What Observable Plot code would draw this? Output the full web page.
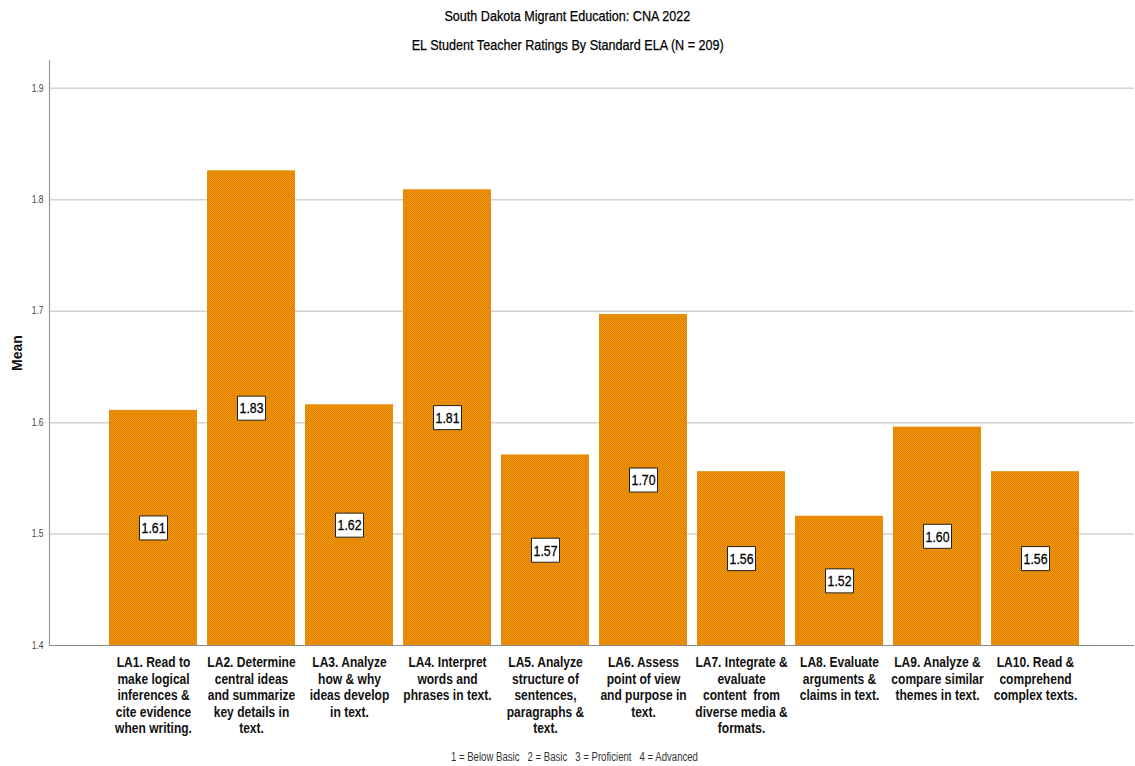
<!DOCTYPE html>
<html>
<head>
<meta charset="utf-8">
<script src="https://cdn.jsdelivr.net/npm/d3@7"></script>
<script src="https://cdn.jsdelivr.net/npm/@observablehq/plot@0.6"></script>
<style>
  html, body { margin: 0; padding: 0; background: #fff; overflow: hidden; }
  body { width: 1135px; height: 766px; font-family: "Liberation Sans", Arial, sans-serif; }
  .t1 { height: 32px; line-height: 32px; text-align: center; font-size: 15px; color: #000; }
  .t2 { height: 24px; line-height: 26px; text-align: center; font-size: 15px; color: #000; }
  .t1 span, .t2 span { display: inline-block; transform: scaleX(0.84); white-space: nowrap; -webkit-text-stroke: 0.25px #000; }
  .foot { height: 18px; line-height: 18px; text-align: center; font-size: 12px; color: #333; padding-left: 14px; }
  .foot span { display: inline-block; transform: scaleX(0.8); white-space: pre; }
  #chart svg { display: block; }
</style>
</head>
<body>
<div class="t1"><span>South Dakota Migrant Education: CNA 2022</span></div>
<div class="t2"><span>EL Student Teacher Ratings By Standard ELA (N = 209)</span></div>
<div id="chart"></div>
<div class="foot"><span>1 = Below Basic   2 = Basic   3 = Proficient   4 = Advanced</span></div>
<script>
// ---- data ----
const categories = ["LA1", "LA2", "LA3", "LA4", "LA5", "LA6", "LA7", "LA8", "LA9", "LA10"];
const categoryLabels = [
  "LA1. Read to\nmake logical\ninferences &\ncite evidence\nwhen writing.",
  "LA2. Determine\ncentral ideas\nand summarize\nkey details in\ntext.",
  "LA3. Analyze\nhow & why\nideas develop\nin text.",
  "LA4. Interpret\nwords and\nphrases in text.",
  "LA5. Analyze\nstructure of\nsentences,\nparagraphs &\ntext.",
  "LA6. Assess\npoint of view\nand purpose in\ntext.",
  "LA7. Integrate &\nevaluate\ncontent  from\ndiverse media &\nformats.",
  "LA8. Evaluate\narguments &\nclaims in text.",
  "LA9. Analyze &\ncompare similar\nthemes in text.",
  "LA10. Read &\ncomprehend\ncomplex texts."
];
const means = [1.611, 1.826, 1.616, 1.809, 1.571, 1.697, 1.556, 1.516, 1.596, 1.556];
const yTicks = [1.4, 1.5, 1.6, 1.7, 1.8, 1.9];
const yMin = 1.4, yMax = 1.925;

const table = categories.map((c, i) => ({cat: c, label: categoryLabels[i], mean: means[i]}));
const labelOf = new Map(table.map(d => [d.cat, d.label]));

const boxSymbol = { draw(ctx) { ctx.rect(-14, -12, 28, 24); } };
const FONT = '"Liberation Sans", Arial, sans-serif';

const plot = Plot.plot({
  width: 1135,
  height: 692,
  marginTop: 4,
  marginBottom: 103,
  marginLeft: 49,
  marginRight: 1,
  style: { fontFamily: FONT, background: "#fff", overflow: "visible" },
  x: { type: "band", domain: categories, range: [103, 1085], paddingInner: 0.1, paddingOuter: 0.05, axis: null },
  y: { domain: [yMin, yMax], axis: null },
  marks: [
    Plot.ruleY(yTicks.slice(1), { stroke: "#d2d2d2", strokeWidth: 1.5 }),
    Plot.barY(table, { x: "cat", y1: yMin, y2: "mean", fill: "url(#orangeChecker)" }),
    Plot.ruleY([yMin], { stroke: "#8a8a8a", strokeWidth: 1.2 }),
    Plot.frame({ anchor: "left", stroke: "#9a9a9a", strokeWidth: 1.2 }),
    Plot.axisY(yTicks, { tickSize: 0, tickPadding: 6, fontSize: 10, fill: "#444", tickFormat: d => d.toFixed(1), label: null }),
    Plot.text(["Mean"], { frameAnchor: "left", textAnchor: "middle", dx: -32, rotate: -90, fontSize: 14, fontWeight: "bold", fill: "#111" }),
    Plot.axisX({ tickSize: 0, tickPadding: 10, fontSize: 14, fontWeight: "bold", fill: "#111", lineHeight: 1.18, tickFormat: d => labelOf.get(d), label: null }),
    Plot.dot(table, { x: "cat", y: d => (yMin + d.mean) / 2, symbol: boxSymbol, r: 10, fill: "#fff", stroke: "#222", strokeWidth: 1 }),
    Plot.text(table, { x: "cat", y: d => (yMin + d.mean) / 2, text: d => d.mean.toFixed(2), fontSize: 15, fill: "#000", stroke: "#000", strokeWidth: 0.3, dy: 0.5 })
  ]
});

// checker pattern for the bar fill
const ns = "http://www.w3.org/2000/svg";
const defs = document.createElementNS(ns, "defs");
const pat = document.createElementNS(ns, "pattern");
pat.setAttribute("id", "orangeChecker");
pat.setAttribute("width", 2);
pat.setAttribute("height", 2);
pat.setAttribute("patternUnits", "userSpaceOnUse");
[["0","0",2,2,"#F69600"],["0","0",1,1,"#DA800C"],["1","1",1,1,"#DA800C"]].forEach(([x,y,w,h,f]) => {
  const r = document.createElementNS(ns, "rect");
  r.setAttribute("x", x); r.setAttribute("y", y);
  r.setAttribute("width", w); r.setAttribute("height", h);
  r.setAttribute("fill", f);
  pat.appendChild(r);
});
defs.appendChild(pat);
plot.insertBefore(defs, plot.firstChild);

// narrow the text horizontally (condensed look of the original)
function squeeze(sel, k) {
  plot.querySelectorAll(sel).forEach(t => {
    const tr = t.getAttribute("transform") || "";
    t.setAttribute("transform", (tr + ` scale(${k},1)`).trim());
  });
}
squeeze('g[aria-label="x-axis tick label"] text', 0.86);
squeeze('g[aria-label="y-axis tick label"] text', 0.85);
plot.querySelectorAll('g[aria-label="text"] text').forEach(t => {
  if (/^\d\.\d\d$/.test(t.textContent)) {
    const tr = t.getAttribute("transform") || "";
    t.setAttribute("transform", (tr + " scale(0.82,1)").trim());
  }
});

document.getElementById("chart").appendChild(plot);
</script>
</body>
</html>
